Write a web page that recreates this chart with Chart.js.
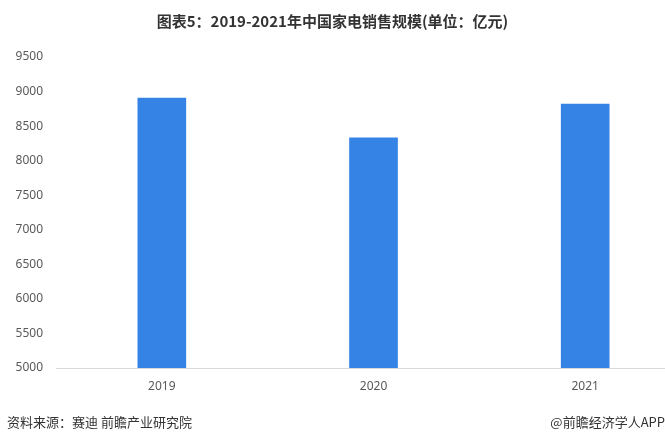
<!DOCTYPE html>
<html>
<head>
<meta charset="utf-8">
<script src="https://cdn.jsdelivr.net/npm/chart.js@4"></script>
<style>
  html, body { margin: 0; padding: 0; background: #fff; overflow: hidden; }
  #wrap { position: relative; width: 665px; height: 444px; }
  #title { position: absolute; left: 0; top: 10px; width: 665px; text-align: center;
    font: bold 15px "Noto Sans CJK SC", "Noto Sans", sans-serif; color: #333; line-height: 22px; }
  #src { position: absolute; left: 7px; top: 413px; font: 13px "Noto Sans CJK SC", sans-serif; color: #333; line-height: 18px; }
  #brand { position: absolute; right: 0; top: 413px; font: 13px "Noto Sans CJK SC", sans-serif; color: #333; line-height: 18px; }
  canvas { position: absolute; left: 0; top: 0; }
</style>
</head>
<body>
<div id="wrap">
  <canvas id="c" width="665" height="444"></canvas>
  <div id="title">图表5：2019-2021年中国家电销售规模(单位：亿元)</div>
  <div id="src">资料来源：赛迪 前瞻产业研究院</div>
  <div id="brand">@前瞻经济学人APP</div>
</div>
<script>
const years = [2019, 2020, 2021];
const sales = [8905, 8330, 8818];
const yTicks = [5000, 5500, 6000, 6500, 7000, 7500, 8000, 8500, 9000, 9500];

new Chart(document.getElementById('c'), {
  type: 'bar',
  data: {
    datasets: [{
      label: '家电销售规模',
      data: years.map((y, i) => ({ x: y, y: sales[i] })),
      backgroundColor: '#3683e6',
      barThickness: 48
    }]
  },
  options: {
    responsive: false,
    animation: false,
    layout: { padding: { top: 57, bottom: 46, left: 0, right: 0 } },
    plugins: { legend: { display: false }, title: { display: false }, tooltip: { enabled: false } },
    scales: {
      x: {
        type: 'linear',
        min: 2018.5,
        max: 2021.377,
        offset: false,
        grid: { display: false, drawTicks: false },
        border: { display: true, color: '#d9d9d9', width: 1 },
        afterBuildTicks: axis => { axis.ticks = years.map(v => ({ value: v })); },
        afterFit: axis => { axis.height = 30; },
        ticks: {
          padding: 11,
          color: '#595959',
          font: { family: 'Noto Sans', size: 12 },
          callback: v => String(v)
        }
      },
      y: {
        min: 5000,
        max: 9500,
        grid: { display: false, drawTicks: false },
        border: { display: false },
        afterBuildTicks: axis => { axis.ticks = yTicks.map(v => ({ value: v })); },
        afterFit: axis => { axis.width = 56; },
        ticks: {
          padding: 13,
          color: '#595959',
          font: { family: 'Noto Sans', size: 12 },
          callback: v => String(v)
        }
      }
    }
  }
});
</script>
</body>
</html>
